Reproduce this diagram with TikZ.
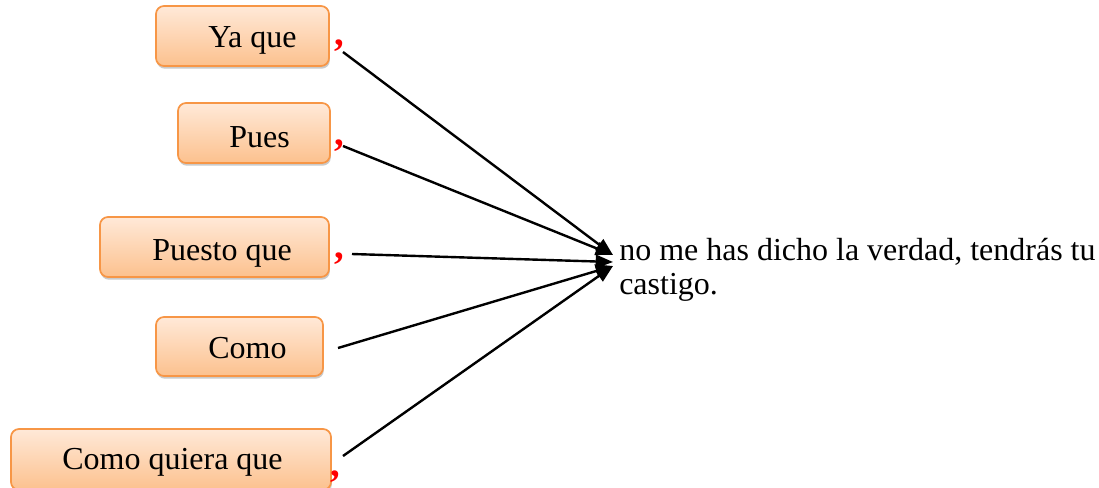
\documentclass[tikz,border=0pt]{standalone}
\usepackage{fontspec}
\setmainfont{Liberation Serif}
\usetikzlibrary{arrows.meta,shadows,fit}
\definecolor{boxline}{HTML}{F79646}
\definecolor{boxtop}{HTML}{FFE9D8}
\definecolor{boxbot}{HTML}{FCC18E}
\definecolor{commared}{HTML}{FF0000}
\begin{document}
\begin{tikzpicture}[x=0.75pt,y=-0.75pt,
  box/.style={draw=boxline,line width=1.3pt,rounded corners=6pt,top color=boxtop,bottom color=boxbot,
    inner sep=0pt,drop shadow={shadow xshift=0.6pt,shadow yshift=-2pt,opacity=0.35,fill=black!60}},
  lbl/.style={anchor=base west,inner sep=0pt,font=\fontsize{24}{28}\selectfont},
  comma/.style={anchor=base west,inner sep=0pt,text=commared,font=\fontsize{29}{30}\selectfont\bfseries},
  conn/.style={line width=1.8pt,-{Triangle[length=13pt,width=10pt]}}]
\useasboundingbox (0,0) rectangle (1099,487);
% boxes
\node[box,fit={(156,6) (329,66)}] (b1) {};
\node[box,fit={(178,103) (330,163)}] (b2) {};
\node[box,fit={(100,217) (329,277)}] (b3) {};
\node[box,fit={(156,317) (323,376)}] (b4) {};
\node[box,fit={(11,429) (331,490)}] (b5) {};
% labels
\node[lbl] (t1) at (208,47) {Ya que};
\node[lbl] (t2) at (229,147) {Pues};
\node[lbl] (t3) at (152,260) {Puesto que};
\node[lbl] (t4) at (208,358) {Como};
\node[lbl] (t5) at (62,469) {Como quiera que};
% commas
\node[comma] (c1) at (334,45) {,};
\node[comma] (c2) at (334,145) {,};
\node[comma] (c3) at (334,258) {,};
\node[comma] (c5) at (330,476) {,};
% target text
\node[anchor=base west,inner sep=0pt,align=left,font=\fontsize{24}{25.5}\selectfont] (tgt) at (619,294)
  {no me has dicho la verdad, tendrás tu\\castigo.};
% connector endpoints
\coordinate (s1) at (343,52);
\coordinate (s2) at (343,146);
\coordinate (s3) at (352,254);
\coordinate (s4) at (338,348);
\coordinate (s5) at (343,456);
\coordinate (e1) at (613,255);
\coordinate (e2) at (613,262);
\coordinate (e3) at (613,266);
\draw[conn] (s1) -- (e1);
\draw[conn] (s2) -- (e1);
\draw[conn] (s3) -- (e2);
\draw[conn] (s4) -- (e3);
\draw[conn] (s5) -- (e3);
\end{tikzpicture}
\end{document}
